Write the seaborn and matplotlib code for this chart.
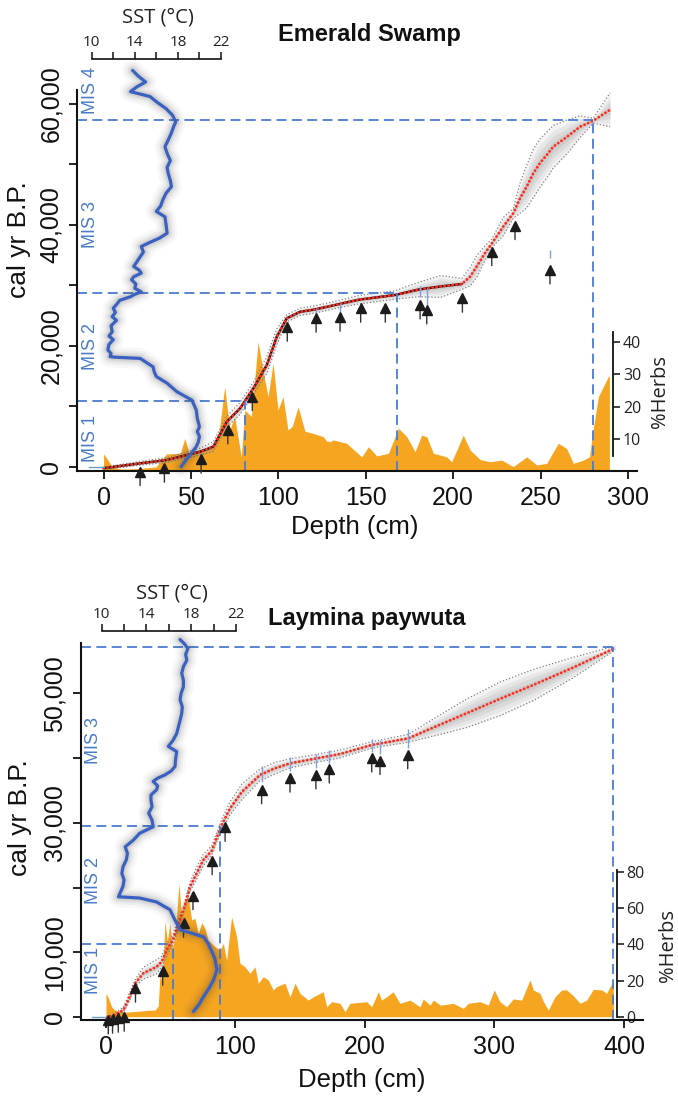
import numpy as np
import pandas as pd
import matplotlib
matplotlib.use("Agg")
import matplotlib.pyplot as plt
import seaborn as sns

sns.set_theme(style="ticks")
plt.rcParams["font.family"] = ["Liberation Sans", "DejaVu Sans"]
plt.rcParams["axes.edgecolor"] = "#111111"
plt.rcParams["xtick.color"] = "#111111"
plt.rcParams["ytick.color"] = "#111111"
plt.rcParams["text.color"] = "#111111"

# ---------------------------------------------------------------- Emerald Swamp
es_model_depth = [0, 20.9, 36.2, 55.2, 62.8, 70.5, 78.1, 85.7, 93.4, 99.1, 104.8, 112.4,
                  121.0, 135.0, 146.0, 167.0, 180.5, 193.0, 204.9, 209.7, 213.5, 218.2,
                  222.1, 228.7, 234.4, 238.3, 242.1, 245.9, 249.7, 253.5, 257.3, 265.0,
                  272.6, 280.2, 289.8]
es_model_age = [-250, 560, 1110, 2480, 3310, 7440, 9650, 12960, 16810, 21490, 24530, 25600,
                26000, 26900, 27600, 28400, 29300, 29800, 30200, 31400, 33100, 35300,
                36900, 39700, 41900, 44400, 46300, 48500, 50200, 51500, 52900, 54500,
                56200, 57200, 59000]
es_model_err = [200, 300, 400, 600, 800, 900, 1000, 1000, 1400, 1300, 600, 600,
                600, 600, 700, 700, 1200, 1800, 900, 1500, 1800, 1200,
                700, 1500, 800, 2500, 3500, 4000, 4000, 3800, 3500, 2800,
                1800, 400, 2800]
es_date_depth = [20.9, 34.8, 55.8, 71.1, 85.1, 105.1, 121.6, 135.3, 147.1, 161.2,
                 181.1, 184.9, 205.3, 222.1, 235.4, 255.4]
es_date_age = [-830, -270, 1220, 6070, 11570, 23040, 24530, 24700, 26180, 26180,
               26730, 25900, 27840, 35540, 39840, 32510]
es_cal_depth = [121.6, 135.3, 181.1, 184.9, 255.4]
es_cal_lo = [25000, 25600, 28000, 26800, 34500]
es_cal_hi = [26300, 27000, 29800, 29500, 35900]
es_sst_age = [65500, 64600, 63600, 62800, 62000, 61200, 60200, 59200, 58100, 57000,
              56200, 55200, 54000, 52900, 51800, 50600, 49500, 48500, 47300, 46300,
              45200, 44100, 43100, 42200, 41300, 40000, 38600, 37800, 37000, 36400,
              35500, 34700, 33900, 33100, 32500, 32000, 31400, 30900, 30200, 29500,
              28900, 28500, 28100, 27500, 26800, 26200, 25500, 24800, 24200, 23300,
              22300, 21600, 21000, 20200, 19300, 18700, 18200, 18100, 17900, 17200,
              16500, 15700, 14900, 13800, 12400, 11700, 11000, 10200, 9400, 8000,
              6600, 5800, 5000, 4100, 3300, 2600, 1900, 1000, 0]
es_sst = [13.8, 14.3, 15.0, 14.2, 13.6, 15.4, 16.1, 16.9, 17.5, 17.8,
          17.6, 17.4, 17.1, 16.8, 17.0, 17.3, 17.0, 17.1, 17.3, 17.4,
          16.9, 16.6, 16.4, 16.0, 16.8, 16.9, 17.0, 16.3, 15.3, 14.6,
          14.8, 14.5, 14.2, 13.9, 14.4, 14.6, 13.9, 13.7, 14.1, 14.0,
          14.6, 14.0, 13.6, 12.6, 12.3, 12.0, 12.2, 11.9, 12.3, 11.8,
          11.9, 11.6, 12.0, 11.6, 11.5, 11.8, 11.7, 12.2, 14.5, 15.1,
          15.7, 15.8, 16.0, 17.0, 17.9, 18.6, 19.3, 19.5, 19.7, 19.8,
          20.0, 19.8, 20.0, 19.9, 19.7, 19.4, 19.1, 18.7, 18.3]
es_herb_depth = [0, 2, 5, 10, 20, 30, 33, 36, 44, 46.4, 49, 52, 58, 63, 66, 69.3, 72.2,
                 75, 78.8, 80.8, 84.6, 88.4, 91.2, 94.1, 97, 99.8, 102.7, 105.5, 108,
                 111.3, 115.2, 120, 125.7, 127.5, 129.6, 131.5, 139, 147.7, 151.5,
                 156.3, 163, 168.7, 173.5, 178.2, 182, 184.9, 188.7, 196.3, 199.2,
                 205.8, 209.7, 215.4, 221.1, 227.8, 234.4, 242.1, 247.8, 253.5, 260.2,
                 264.9, 268.8, 274.5, 278, 280.2, 283.1, 288.8, 289.4]
es_herb_pct = [5.5, 4.0, 1.5, 0.8, 1.0, 1.5, 3.5, 5.5, 5.7, 10.3, 5.7, 6.5, 7.0, 7.5, 12,
               26.2, 12.9, 17, 4.6, 19, 17, 40, 31.3, 23.1, 33.4, 19, 23.1, 12.9, 14,
               20, 12.5, 11.8, 10.8, 9.5, 9.3, 9.8, 8.8, 4.6, 7.7,
               4.9, 5.7, 13.4, 10.8, 6.2, 11.3, 10.8, 5.7, 4.6, 3.1,
               11.3, 6.7, 3.8, 3.1, 3.6, 1.6, 4.6, 2.1, 2.6, 8.8,
               7.2, 2.6, 3.6, 4.6, 13.4, 23.1, 29.3, 29.5]
es_mis_age = [10900, 28700, 57300]
es_mis_depth = [81, 168, 280]

# ---------------------------------------------------------------- Laymina paywuta
lp_model_depth = [0.5, 8.0, 13.4, 17.2, 22.4, 28.8, 39.2, 43.0, 46.9, 51.5, 57.1, 61.0,
                  64.9, 70.0, 75.1, 81.6, 89.3, 95.8, 105.0, 118.9, 130.0, 142.1, 162.7,
                  180.7, 205.2, 233.4, 255.0, 278.5, 305.0, 329.9, 360.0, 393.1]
lp_model_age = [-100, 500, 1130, 2670, 5250, 6790, 7810, 8580, 10380, 11900, 15010, 17330,
                20150, 22220, 24270, 25700, 29670, 32250, 34800, 37390, 38400, 39190, 39960,
                40630, 42020, 43050, 44900, 46910, 49200, 51270, 53900, 56980]
lp_model_err = [200, 300, 400, 600, 500, 900, 1100, 800, 900, 800, 700, 600,
                700, 900, 900, 700, 800, 1000, 1200, 900, 900, 700, 600,
                600, 500, 600, 1400, 2200, 2600, 2400, 1600, 300]
lp_date_depth = [1.8, 5.1, 9.5, 14.1, 22.8, 43.8, 59.9, 67.2, 82.0, 92.0, 120.2, 142.1,
                 162.1, 172.4, 205.2, 211.6, 233.0]
lp_date_age = [-420, -300, -150, 0, 4480, 7100, 14500, 18750, 24150, 29300, 35100, 36900,
               37400, 38300, 40000, 39600, 40500]
lp_cal_depth = [120.2, 142.1, 162.1, 172.4, 205.2, 211.6, 233.0]
lp_cal_lo = [36300, 38000, 38400, 39300, 40900, 40700, 41500]
lp_cal_hi = [38800, 40200, 40600, 41300, 43000, 42800, 44500]
lp_sst_age = [58300, 57600, 56900, 56000, 55100, 54100, 53100, 52000, 51000, 50000,
              49000, 47900, 46900, 45800, 44800, 43800, 42800, 41800, 41000, 39800,
              38700, 38000, 37400, 36900, 36400, 35700, 35100, 34300, 33500, 32500,
              31500, 30400, 29400, 28400, 27300, 26300, 25300, 24300, 23200, 22200,
              21200, 20200, 19400, 18600, 18400, 17800, 16600, 15000, 14500, 13500,
              13000, 12400, 11400, 10300, 9100, 8200, 7300, 5800, 4500, 3200, 2000, 900]
lp_sst = [17.0, 17.4, 17.7, 17.5, 17.6, 17.3, 17.15, 17.3, 17.3, 17.1,
          17.0, 17.2, 17.15, 17.0, 16.85, 16.7, 16.4, 15.95, 16.7, 16.6,
          16.55, 16.2, 15.65, 15.0, 14.6, 15.0, 14.9, 14.4, 14.4, 14.5,
          14.2, 14.5, 14.6, 13.4, 12.8, 12.1, 12.3, 12.2, 11.9, 11.8,
          12.0, 11.9, 11.7, 11.5, 13.4, 14.9, 16.1, 16.55, 16.7, 17.0,
          18.0, 19.1, 19.5, 19.8, 20.1, 20.2, 20.3, 20.0, 19.6, 19.1, 18.7, 18.2]
lp_herb_depth = [0, 1.5, 4.4, 7, 15, 25, 32, 38, 40.4, 41.7, 43, 44.3, 45.6, 47.4, 49.4,
                 51.2, 53.3, 56.4, 58.4, 61, 63.6, 66.2, 68.7, 71.3, 74, 76.4, 78.9,
                 84.2, 88, 90.6, 93.2, 97, 100.9, 103.5, 107.3, 111.2, 115.1, 117.6,
                 121.5, 125.3, 129.2, 131.8, 138.2, 142.1, 146, 149.8, 156.2, 160.1,
                 167.8, 170.4, 174.3, 180.7, 184.6, 188.4, 201.3, 205.2, 210.3, 212.8,
                 216.7, 221.8, 227, 234.7, 242.5, 245, 250.2, 252.8, 258.3, 268.2,
                 275.9, 279.8, 288.8, 295.2, 299.8, 304.2, 309.4, 314.5, 321, 327.4,
                 330, 335.1, 337.8, 341.6, 346.7, 351.9, 355.7, 360.9, 366, 371.2,
                 376.3, 382.8, 386.6, 389.2, 391.8]
lp_herb_pct = [12.9, 11, 5.5, 3.5, 2.5, 3, 3.5, 3.7, 6, 24, 20, 33, 52.5, 42, 51.6,
               38, 44, 73.7, 55, 64.5, 66.3, 53.4, 54.4, 46, 52, 48.8, 42.4,
               38.7, 36.8, 40.5, 31.3, 55.2, 44.2, 29.5, 27.6, 24, 27.6, 18.5,
               22.1, 20.3, 14.8, 16.6, 18.5, 11, 18.5, 12.9, 9.2, 11,
               13.8, 5.5, 8.3, 7.4, 2.8, 7.4, 8.3, 5.5, 13.8, 9.2,
               11, 13.8, 7.4, 9.2, 5.5, 9.8, 6.4, 9.2, 6.4, 7.4,
               4.6, 7.4, 8.3, 6.4, 14.8, 8.3, 5.5, 9.8, 9.2, 20.3,
               14.8, 12.9, 8.3, 3.7, 11, 14.8, 14.8, 11.6, 7.4, 9.2,
               15.1, 14.8, 12.9, 16.6, 19.3]
lp_mis_age = [11300, 29500, 57100]
lp_mis_depth = [51.5, 88, 391.7]

# shared scales
sst_ticks = [10, 12, 14, 16, 18, 20, 22]
sst_tick_labels = ["10", "", "14", "", "18", "", "22"]

W, H = 678, 1098
HERB = "#f6a521"
SST_BLUE = "#3a61c2"
DASH_BLUE = "#4a7bd0"
MIS_BLUE = "#4a7bc8"
SMALL_FONT = ["Open Sans", "DejaVu Sans"]

fig = plt.figure(figsize=(W / 100, H / 100), dpi=100)
fig.patch.set_facecolor("white")


def px_rect(left, top, right, bottom):
    return [left / W, 1 - bottom / H, (right - left) / W, (bottom - top) / H]


def ftext(x, y, s, **kw):
    fig.text(x / W, 1 - y / H, s, **kw)


def draw_site(lay, d):
    ax = fig.add_axes(px_rect(*lay["box"]))
    ax_h = ax.twinx()
    ax_s = ax.twiny()
    ax_h.set_zorder(1)
    ax.set_zorder(2)
    ax_s.set_zorder(3)
    ax.patch.set_visible(False)
    ax_s.patch.set_visible(False)
    ax_h.patch.set_facecolor("white")

    # pollen: herbaceous taxa
    herbs = pd.DataFrame({"depth": d["herb_depth"], "pct": d["herb_pct"]})
    ax_h.fill_between(herbs["depth"], 0, herbs["pct"], color=HERB, lw=0)
    ax_h.set_ylim(lay["herb_ylim"])
    for s in ["left", "top", "bottom"]:
        ax_h.spines[s].set_visible(False)
    ax_h.spines["right"].set_position(("axes", lay["herb_spine"]))
    ax_h.spines["right"].set_bounds(*lay["herb_bounds"])
    ax_h.spines["right"].set_linewidth(1.3)
    ax_h.set_yticks(lay["herb_ticks"])
    ax_h.tick_params(axis="y", right=True, left=False, labelright=True, labelleft=False,
                     direction="out", length=5, width=1.2, labelsize=11.5, pad=2,
                     colors="#222222")
    for t in ax_h.get_yticklabels():
        t.set_fontfamily(SMALL_FONT)
    ax_h.grid(False)

    # age-depth model
    ax.set_xlim(lay["xlim"])
    ax.set_ylim(lay["ylim"])
    dep = np.asarray(d["model_depth"], float)
    age = np.asarray(d["model_age"], float)
    err = np.asarray(d["model_err"], float)
    for f, a in [(1.0, 0.10), (0.75, 0.12), (0.5, 0.14), (0.25, 0.16)]:
        ax.fill_between(dep, age - f * err, age + f * err, color="#8a8a8a", alpha=a, lw=0)
    for sign in (-1, 1):
        ax.plot(dep, age + sign * err, ls=(0, (1, 1.6)), color="#808080", lw=0.9)
    under = dep <= lay["black_until"]
    if under.any():
        ax.plot(dep[under], age[under], color="#111111", lw=1.7)
    model = pd.DataFrame({"depth": dep, "age": age})
    sns.lineplot(data=model, x="depth", y="age", ax=ax, sort=False, estimator=None,
                 color="#ff2b1c", lw=2.0, linestyle=(0, (0.1, 1.35)),
                 dash_capstyle="round")

    # dated horizons
    ax.vlines(d["cal_depth"], d["cal_lo"], d["cal_hi"], color="#7f9ee6", lw=1.0)
    for x, y in zip(d["date_depth"], d["date_age"]):
        ax.annotate("", xy=(x, y), xytext=(0, -10), textcoords="offset points",
                    arrowprops=dict(arrowstyle="-", color="#333333", lw=1.0,
                                    shrinkA=0, shrinkB=0),
                    annotation_clip=False)
    ax.plot(d["date_depth"], d["date_age"], ls="none", marker="^", ms=7.5,
            color="#1c1c1c", clip_on=False, zorder=5)

    # marine isotope stage boundaries
    x0, y0 = lay["xlim"][0], lay["ylim"][0]
    dash_kw = dict(ls=(0, (5.5, 3)), color=DASH_BLUE, lw=1.3)
    for a, dd in zip(d["mis_age"], d["mis_depth"]):
        ax.plot([x0, dd], [a, a], **dash_kw)
        ax.plot([dd, dd], [y0, a], **dash_kw)
    ax.plot([x0 + 0.45 * (0 - x0), 0], [0, 0], color="#6aa0c8", lw=1.0)

    for s in ["top", "right"]:
        ax.spines[s].set_visible(False)
    for s in ["left", "bottom"]:
        ax.spines[s].set_linewidth(1.5)
    ax.set_xticks(lay["xticks"])
    ax.set_yticks(lay["yticks"])
    ax.set_yticklabels(lay["ylabels"], rotation=90, va="center")
    ax.tick_params(axis="both", direction="out", length=6, width=1.3, labelsize=18)
    ax.tick_params(axis="x", pad=5)
    ax.tick_params(axis="y", pad=4)
    ax.set_xlabel("")
    ax.set_ylabel("")
    ax.grid(False)

    # sea-surface temperature
    sst = pd.DataFrame({"sst": d["sst"], "age": d["sst_age"]})
    for w, a in [(15, 0.035), (11, 0.05), (7.5, 0.07), (4.8, 0.09)]:
        ax_s.plot(sst["sst"], sst["age"], color="#3a3a3a", lw=w, alpha=a,
                  solid_capstyle="round", solid_joinstyle="round", clip_on=False)
    sns.lineplot(data=sst, x="sst", y="age", ax=ax_s, sort=False, estimator=None,
                 color=SST_BLUE, lw=2.3, clip_on=False)
    ax_s.set_xlim(lay["sst_xlim"])
    ax_s.set_ylim(lay["ylim"])
    for s in ["bottom", "left", "right"]:
        ax_s.spines[s].set_visible(False)
    ax_s.spines["top"].set_position(("outward", lay["sst_out"]))
    ax_s.spines["top"].set_bounds(10, 22)
    ax_s.spines["top"].set_linewidth(1.2)
    ax_s.set_xticks(sst_ticks)
    ax_s.set_xticklabels(sst_tick_labels)
    ax_s.tick_params(axis="x", top=True, bottom=False, labeltop=True, labelbottom=False,
                     direction="out", length=5, width=1.2, labelsize=11, pad=1.5,
                     colors="#222222")
    for t in ax_s.get_xticklabels():
        t.set_fontfamily(SMALL_FONT)
    ax_s.set_xlabel("")
    ax_s.set_ylabel("")
    ax_s.grid(False)

    # labels
    t = lay["text"]
    ftext(*t["title"], d["title"], ha="center", va="center", fontsize=17, weight="bold")
    ftext(*t["sst"], "SST (°C)", ha="center", va="center", fontsize=14.5,
          family=SMALL_FONT, color="#222222")
    ftext(*t["depth"], "Depth (cm)", ha="center", va="center", fontsize=18.5)
    ftext(*t["age"], "cal yr B.P.", ha="center", va="center", fontsize=19, rotation=90)
    ftext(*t["herbs"], "%Herbs", ha="center", va="center", fontsize=14.5,
          family=SMALL_FONT, rotation=90, color="#222222")
    for label, x, y in t["mis"]:
        ftext(x, y, label, ha="center", va="center", fontsize=13, rotation=90,
              color=MIS_BLUE)


draw_site(
    dict(box=(77, 90, 637, 470.7), xlim=(-15.2, 305.2), ylim=(-661, 62270),
         xticks=[0, 50, 100, 150, 200, 250, 300],
         yticks=[0, 10000, 20000, 30000, 40000, 50000, 60000],
         ylabels=["0", "", "20,000", "", "40,000", "", "60,000"],
         sst_xlim=(8.636, 60.61), sst_out=22.3,
         herb_ylim=(0.34, 117.5), herb_spine=0.9577, herb_bounds=(5, 43),
         herb_ticks=[10, 20, 30, 40], black_until=205,
         text=dict(title=(369, 35), sst=(158, 18), depth=(355, 527), age=(19, 240),
                   herbs=(660, 391),
                   mis=[("MIS 4", 90, 90), ("MIS 3", 90, 225), ("MIS 2", 90, 347),
                        ("MIS 1", 90, 438)])),
    dict(title="Emerald Swamp", model_depth=es_model_depth, model_age=es_model_age,
         model_err=es_model_err, date_depth=es_date_depth, date_age=es_date_age,
         cal_depth=es_cal_depth, cal_lo=es_cal_lo, cal_hi=es_cal_hi,
         sst=es_sst, sst_age=es_sst_age, herb_depth=es_herb_depth,
         herb_pct=es_herb_pct, mis_age=es_mis_age, mis_depth=es_mis_depth))

draw_site(
    dict(box=(80.7, 643, 643.3, 1020), xlim=(-19.5, 414.9), ylim=(-417, 57755),
         xticks=[0, 100, 200, 300, 400],
         yticks=[0, 10000, 20000, 30000, 40000, 50000],
         ylabels=["0", "10,000", "", "30,000", "", "50,000"],
         sst_xlim=(8.124, 58.39), sst_out=8.6,
         herb_ylim=(-1.82, 206.5), herb_spine=0.9527, herb_bounds=(0, 81),
         herb_ticks=[0, 20, 40, 60, 80], black_until=-1,
         text=dict(title=(367, 618), sst=(171.7, 593), depth=(362, 1080), age=(20, 818),
                   herbs=(668, 946),
                   mis=[("MIS 3", 93, 740), ("MIS 2", 93, 881), ("MIS 1", 93, 970)])),
    dict(title="Laymina paywuta", model_depth=lp_model_depth, model_age=lp_model_age,
         model_err=lp_model_err, date_depth=lp_date_depth, date_age=lp_date_age,
         cal_depth=lp_cal_depth, cal_lo=lp_cal_lo, cal_hi=lp_cal_hi,
         sst=lp_sst, sst_age=lp_sst_age, herb_depth=lp_herb_depth,
         herb_pct=lp_herb_pct, mis_age=lp_mis_age, mis_depth=lp_mis_depth))

fig.savefig("out.png", dpi=100, facecolor="white")
